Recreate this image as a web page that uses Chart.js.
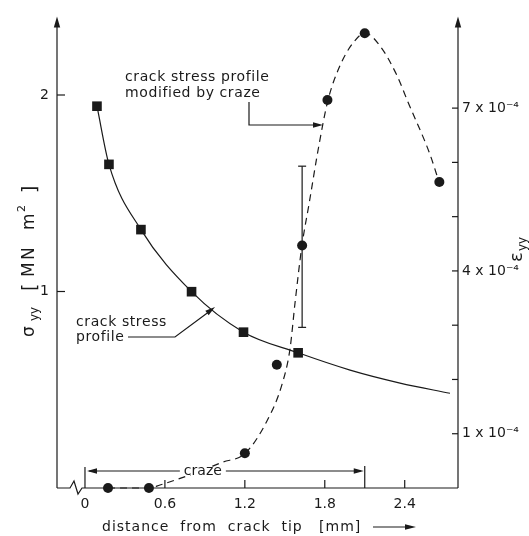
<!DOCTYPE html>
<html>
<head>
<meta charset="utf-8">
<title>crack stress profile</title>
<script src="https://cdn.jsdelivr.net/npm/chart.js@4.4.0/dist/chart.umd.min.js"></script>
<style>
  html, body { margin: 0; padding: 0; background: #fff; overflow: hidden; }
  #wrap { position: relative; width: 529px; height: 536px; }
</style>
</head>
<body>
<div id="wrap"><canvas id="chart"></canvas></div>
<script>
// distance from crack tip (mm) / sigma_yy (MN m^-2), square markers
var stressX = [0.09, 0.18, 0.42, 0.80, 1.19, 1.60];
var stressY = [1.943, 1.647, 1.315, 0.999, 0.793, 0.688];

// the drawn crack stress profile (solid line)
var stressCurveX = [0.09, 0.18, 0.42, 0.80, 1.19, 1.60, 1.99, 2.365, 2.74];
var stressCurveY = [1.943, 1.647, 1.315, 0.999, 0.793, 0.688, 0.60, 0.534, 0.482];

// strain eps_yy (x 1e-4), circle markers
var strainX = [0.173, 0.48, 1.20, 1.44, 1.63, 1.82, 2.10, 2.66];
var strainY = [0, 0, 0.64, 2.27, 4.47, 7.15, 8.38, 5.64];

// profile modified by craze (dashed line)
var strainCurveX = [0.173, 0.48, 0.563, 0.698, 0.863, 1.029, 1.201, 1.366, 1.479, 1.539, 1.577,
                    1.629, 1.682, 1.757, 1.824, 1.914, 2.012, 2.102, 2.215, 2.342, 2.425, 2.59, 2.658];
var strainCurveY = [0, 0, 0.055, 0.164, 0.309, 0.473, 0.636, 1.236, 1.909, 2.564, 3.418,
                    4.473, 5.236, 6.327, 7.145, 7.782, 8.2, 8.382, 8.145, 7.6, 7.109, 6.145, 5.636];

// error bar on the strain point at 1.63 mm
var errX = [1.63];
var errLow = [2.96];
var errHigh = [5.93];

// craze zone (mm)
var crazeFrom = 0;
var crazeTo = 2.1;

var xTicks = [0, 0.6, 1.2, 1.8, 2.4];
var xTickLabels = ['0', '0.6', '1.2', '1.8', '2.4'];
var leftTicks = [1, 2];
var leftTickLabels = ['1', '2'];
var rightTicks = [1, 2, 3, 4, 5, 6, 7];
var rightTickLabels = ['1 x 10\u207B\u2074', '', '', '4 x 10\u207B\u2074', '', '', '7 x 10\u207B\u2074'];

var ink = '#1a1a1a';
var font = "'DejaVu Sans'";

function pts(xs, ys) {
    return xs.map(function(x, i) { return { x: x, y: ys[i] }; });
}

function seg(ctx, p) {
    ctx.beginPath();
    ctx.moveTo(p[0][0], p[0][1]);
    for (var i = 1; i < p.length; i++) ctx.lineTo(p[i][0], p[i][1]);
    ctx.stroke();
}

function head(ctx, x, y, ang, len, half) {
    var c = Math.cos(ang), s = Math.sin(ang);
    ctx.beginPath();
    ctx.moveTo(x, y);
    ctx.lineTo(x - len * c + half * s, y - len * s - half * c);
    ctx.lineTo(x - len * c - half * s, y - len * s + half * c);
    ctx.closePath();
    ctx.fill();
}

// rotated title made of runs: {t, s (size), o (offset along text), dy}
function runs(ctx, list, x, y) {
    ctx.save();
    ctx.translate(x, y);
    ctx.rotate(-Math.PI / 2);
    ctx.textAlign = 'left';
    ctx.textBaseline = 'alphabetic';
    list.forEach(function(r) {
        ctx.font = r.s + 'px ' + font;
        ctx.fillText(r.t, r.o, r.dy || 0);
    });
    ctx.restore();
}

var decor = {
    id: 'decor',
    afterDatasetsDraw: function(chart) {
        var ctx = chart.ctx, a = chart.chartArea;
        var xs = chart.scales.x, yl = chart.scales.y, yr = chart.scales.y2;
        ctx.save();
        ctx.strokeStyle = ink;
        ctx.fillStyle = ink;
        ctx.lineWidth = 1.2;

        // left and right axes with arrows
        seg(ctx, [[a.left, a.bottom], [a.left, a.top + 4]]);
        head(ctx, a.left, a.top, -Math.PI / 2, 11, 3.2);
        seg(ctx, [[a.right, a.bottom], [a.right, a.top + 4]]);
        head(ctx, a.right, a.top, -Math.PI / 2, 11, 3.2);

        // bottom axis with break
        var b = a.bottom, l = a.left;
        seg(ctx, [[l, b], [l + 13, b], [l + 17, b - 7], [l + 21, b + 6], [l + 25, b], [a.right, b]]);

        // inward ticks
        xTicks.forEach(function(v) {
            if (v === 0) return;
            var px = xs.getPixelForValue(v);
            seg(ctx, [[px, b], [px, b - 8]]);
        });
        leftTicks.forEach(function(v) {
            var py = yl.getPixelForValue(v);
            seg(ctx, [[l, py], [l + 8, py]]);
        });
        rightTicks.forEach(function(v) {
            var py = yr.getPixelForValue(v);
            seg(ctx, [[a.right - 6, py], [a.right, py]]);
        });

        // error bar
        errX.forEach(function(v, i) {
            var px = xs.getPixelForValue(v);
            var y1 = yr.getPixelForValue(errLow[i]), y2 = yr.getPixelForValue(errHigh[i]);
            seg(ctx, [[px, y1], [px, y2]]);
            seg(ctx, [[px - 4, y1], [px + 4, y1]]);
            seg(ctx, [[px - 4, y2], [px + 4, y2]]);
        });

        // craze bracket
        var c0 = xs.getPixelForValue(crazeFrom), c1 = xs.getPixelForValue(crazeTo);
        var cy = 471;
        seg(ctx, [[c0, b], [c0, cy - 4]]);
        seg(ctx, [[c1, b], [c1, cy - 5]]);
        seg(ctx, [[c0 + 4, cy], [c1 - 4, cy]]);
        head(ctx, c0 + 2, cy, Math.PI, 10, 2.8);
        head(ctx, c1 - 1, cy, 0, 10, 2.8);

        ctx.font = '14px ' + font;
        ctx.textBaseline = 'alphabetic';
        ctx.textAlign = 'center';
        var cx = (c0 + c1) / 2 - 22;
        var w = ctx.measureText('craze').width;
        ctx.fillStyle = '#fff';
        ctx.fillRect(cx - w / 2 - 4, cy - 4, w + 8, 8);
        ctx.fillStyle = ink;
        ctx.fillText('craze', cx, cy + 4);

        // annotations
        ctx.textAlign = 'left';
        ctx.letterSpacing = '0.6px';
        ctx.fillText('crack stress profile', 125, 81);
        ctx.fillText('modified by craze', 125, 97);
        seg(ctx, [[249, 102], [249, 125], [316, 125]]);
        head(ctx, 323, 125, 0, 10, 2.8);

        ctx.fillText('crack stress', 76, 326);
        ctx.fillText('profile', 76, 341);
        seg(ctx, [[128, 337], [175, 337], [210, 311]]);
        head(ctx, 215, 307, Math.atan2(-30, 40), 10, 2.8);

        // bottom title
        ctx.letterSpacing = '1px';
        ctx.fillText('distance  from  crack  tip   [mm]', 102, 531);
        ctx.letterSpacing = '0px';
        seg(ctx, [[373, 527], [408, 527]]);
        head(ctx, 416, 527, 0, 11, 2.8);

        // axis titles
        runs(ctx, [
            { t: '\u03C3', s: 17, o: 0 },
            { t: 'yy', s: 12, o: 16, dy: 4 },
            { t: '[', s: 19, o: 46, dy: 2 },
            { t: 'M', s: 17, o: 60 },
            { t: 'N', s: 17, o: 77 },
            { t: 'm', s: 17, o: 107 },
            { t: '2', s: 11, o: 125, dy: -9 },
            { t: ']', s: 19, o: 144, dy: 2 }
        ], 34, 337);
        runs(ctx, [
            { t: '\u03B5', s: 18, o: 0 },
            { t: 'yy', s: 12, o: 11, dy: 4 }
        ], 522, 262);

        ctx.restore();
    }
};

new Chart(document.getElementById('chart'), {
    type: 'scatter',
    data: {
        datasets: [
            {
                data: pts(stressCurveX, stressCurveY),
                yAxisID: 'y',
                showLine: true,
                borderColor: ink,
                borderWidth: 1.2,
                pointRadius: 0,
                cubicInterpolationMode: 'monotone',
                clip: false,
                order: 3
            },
            {
                data: pts(strainCurveX, strainCurveY),
                yAxisID: 'y2',
                showLine: true,
                borderColor: ink,
                borderWidth: 1.2,
                borderDash: [7, 5],
                pointRadius: 0,
                cubicInterpolationMode: 'monotone',
                clip: false,
                order: 3
            },
            {
                data: pts(stressX, stressY),
                yAxisID: 'y',
                pointStyle: 'rect',
                pointRadius: 6.8,
                backgroundColor: ink,
                borderWidth: 0,
                clip: false,
                order: 1
            },
            {
                data: pts(strainX, strainY),
                yAxisID: 'y2',
                pointStyle: 'circle',
                pointRadius: 5,
                backgroundColor: ink,
                borderWidth: 0,
                clip: false,
                order: 1
            }
        ]
    },
    options: {
        responsive: true,
        maintainAspectRatio: false,
        animation: false,
        layout: { padding: { top: 10, left: 0, right: 0, bottom: 0 } },
        plugins: { legend: { display: false }, tooltip: { enabled: false } },
        scales: {
            x: {
                type: 'linear',
                min: -0.21,
                max: 2.80,
                afterBuildTicks: function(s) { s.ticks = xTicks.map(function(v) { return { value: v }; }); },
                afterFit: function(s) { s.height = 48; },
                grid: { display: false, drawTicks: false },
                border: { display: false },
                ticks: {
                    autoSkip: false, maxRotation: 0, padding: 8, color: ink,
                    font: { family: 'DejaVu Sans', size: 14 },
                    callback: function(v) { return xTickLabels[xTicks.indexOf(v)]; }
                }
            },
            y: {
                type: 'linear',
                position: 'left',
                min: 0,
                max: 2.40,
                afterBuildTicks: function(s) { s.ticks = leftTicks.map(function(v) { return { value: v }; }); },
                afterFit: function(s) { s.width = 57; },
                grid: { display: false, drawTicks: false },
                border: { display: false },
                ticks: {
                    autoSkip: false, padding: 8, color: ink,
                    font: { family: 'DejaVu Sans', size: 14 },
                    callback: function(v) { return leftTickLabels[leftTicks.indexOf(v)]; }
                }
            },
            y2: {
                type: 'linear',
                position: 'right',
                min: 0,
                max: 8.69,
                afterBuildTicks: function(s) { s.ticks = rightTicks.map(function(v) { return { value: v }; }); },
                afterFit: function(s) { s.width = 71; },
                grid: { display: false, drawTicks: false },
                border: { display: false },
                ticks: {
                    autoSkip: false, padding: 4, color: ink,
                    font: { family: 'DejaVu Sans', size: 14 },
                    callback: function(v) { return rightTickLabels[rightTicks.indexOf(v)]; }
                }
            }
        }
    },
    plugins: [decor]
});
</script>
</body>
</html>
